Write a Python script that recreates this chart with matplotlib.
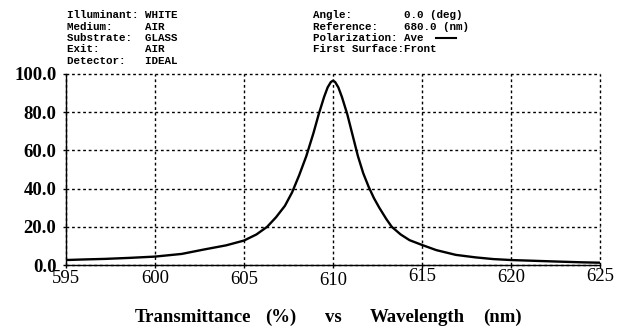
import matplotlib
matplotlib.use("Agg")
import matplotlib.pyplot as plt
from matplotlib.transforms import ScaledTranslation

# Data
wavelength = [595.0, 596.0, 597.2, 598.5, 600.0, 601.5, 602.8, 604.0, 605.0, 605.7,
              606.3, 606.8, 607.3, 607.7, 608.1, 608.5, 608.9, 609.2, 609.5, 609.7,
              609.88, 610.0, 610.12, 610.3, 610.5, 610.8, 611.1, 611.4, 611.7, 612.0,
              612.3, 612.6, 613.0, 613.3, 613.8, 614.3, 615.0, 615.8, 616.9, 618.0,
              619.0, 620.0, 621.3, 622.6, 624.0, 625.0]
transmittance = [2.6, 2.9, 3.2, 3.7, 4.4, 5.8, 8.2, 10.3, 12.8, 16.0,
                 20.0, 25.0, 31.0, 38.0, 47.0, 57.0, 69.0, 79.0, 88.0, 93.0,
                 95.8, 96.5, 95.8, 93.0, 88.0, 79.0, 68.0, 57.0, 48.0, 41.0,
                 35.0, 30.0, 24.0, 20.0, 16.0, 13.0, 10.5, 7.8, 5.3, 4.0,
                 3.1, 2.6, 2.2, 1.8, 1.4, 1.2]

x_ticks = [595, 600, 605, 610, 615, 620, 625]
y_ticks = [0, 20, 40, 60, 80, 100]
y_tick_labels = ["0.0", "20.0", "40.0", "60.0", "80.0", "100.0"]
x_label_shift_px = [0, 0, 1.5, 2, -1.5, -1, -1.5]

header_left = ["Illuminant: WHITE", "Medium:     AIR", "Substrate:  GLASS",
               "Exit:       AIR", "Detector:   IDEAL"]
header_right = ["Angle:        0.0 (deg)", "Reference:    680.0 (nm)",
                "Polarization: Ave", "First Surface:Front"]
title_words = ["Transmittance", "(%)", "vs", "Wavelength", "(nm)"]
title_word_x = [135, 265, 325, 370, 483]

W, H = 624, 329
fig = plt.figure(figsize=(W / 100, H / 100), dpi=100)
ax = fig.add_axes([66 / W, 1 - 265 / H, (600 - 66) / W, (265 - 74) / H])

ax.plot(wavelength, transmittance, color="black", lw=1.7, solid_joinstyle="round",
        solid_capstyle="round", zorder=3)

ax.set_xlim(595, 625)
ax.set_ylim(0, 100)
ax.set_xticks(x_ticks)
ax.set_yticks(y_ticks)
ax.set_yticklabels(y_tick_labels)

for s in ["top", "right"]:
    ax.spines[s].set_visible(False)
for s in ["left", "bottom"]:
    ax.spines[s].set_color("black")
    ax.spines[s].set_linewidth(1.0)

ax.grid(True, color="black", linestyle=(0, (2, 2)), linewidth=1.0)
for gl in ax.get_xgridlines() + ax.get_ygridlines():
    gl.set_clip_on(False)

ax.tick_params(axis="both", direction="out", length=2, width=1, color="black")
ax.tick_params(axis="y", pad=5)
ax.tick_params(axis="x", pad=1.5)

for lab in ax.get_yticklabels():
    lab.set_fontfamily("Liberation Serif")
    lab.set_fontweight("bold")
    lab.set_fontsize(13.5)
for lab, dy in zip(ax.get_xticklabels(), x_label_shift_px):
    lab.set_fontfamily("Liberation Serif")
    lab.set_fontsize(13.5)
    lab.set_transform(lab.get_transform() +
                      ScaledTranslation(0, -dy / 100, fig.dpi_scale_trans))

mono = dict(family="Liberation Mono", fontweight="bold", fontsize=7.8,
            ha="left", va="center", color="black")
left_rows = [15, 26.5, 38, 49.5, 61]
for txt, yy in zip(header_left, left_rows):
    fig.text(67 / W, 1 - yy / H, txt, **mono)
right_rows = [15, 26.5, 38, 49.5]
for txt, yy in zip(header_right, right_rows):
    fig.text(313 / W, 1 - yy / H, txt, **mono)
fig.add_artist(plt.Line2D([436 / W, 456 / W], [1 - 38 / H, 1 - 38 / H],
                          color="black", lw=1.5))

for word, xx in zip(title_words, title_word_x):
    fig.text(xx / W, 1 - 317 / H, word, family="Liberation Serif",
             fontweight="bold", fontsize=13.5, ha="left", va="center")

fig.savefig("out.png", dpi=100, facecolor="white")
